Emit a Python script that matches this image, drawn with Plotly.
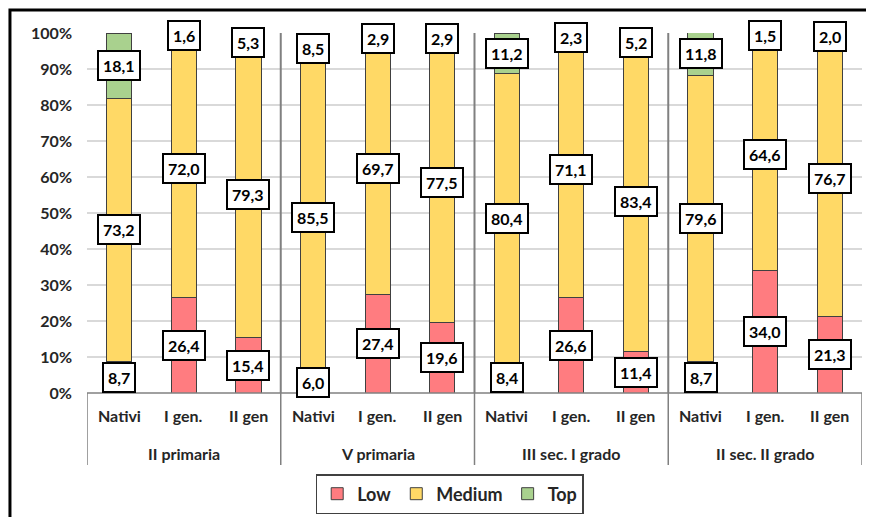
import plotly.graph_objects as go

groups = ["II primaria"] * 3 + ["V primaria"] * 3 + ["III sec. I grado"] * 3 + ["II sec. II grado"] * 3
subcats = ["Nativi", "I gen.", "II gen"] * 4
low = [8.7, 26.4, 15.4, 6.0, 27.4, 19.6, 8.4, 26.6, 11.4, 8.7, 34.0, 21.3]
medium = [73.2, 72.0, 79.3, 85.5, 69.7, 77.5, 80.4, 71.1, 83.4, 79.6, 64.6, 76.7]
top = [18.1, 1.6, 5.3, 8.5, 2.9, 2.9, 11.2, 2.3, 5.2, 11.8, 1.5, 2.0]
series_names = ["Low", "Medium", "Top"]
colors = ["#FF7C80", "#FFD966", "#A9D18E"]
ytick_vals = [0, 10, 20, 30, 40, 50, 60, 70, 80, 90, 100]
ytick_text = [f"<b>{v}%</b>" for v in ytick_vals]

FONT = "Lato, 'Open Sans', sans-serif"
TXT = "#262626"
PLOT_H = 360.0

def py(px_below):
    """paper y for a pixel offset below the plot bottom"""
    return -px_below / PLOT_H

fig = go.Figure()
for name, vals, col in zip(series_names, [low, medium, top], colors):
    fig.add_trace(go.Bar(
        x=[groups, subcats], y=vals, name=f"<b>{name}</b>",
        marker=dict(color=col, line=dict(color="#404040", width=1)),
    ))

annotations = []
# boxed value labels centred in each segment
for i in range(len(subcats)):
    base = 0
    for vals in (low, medium, top):
        v = vals[i]
        annotations.append(dict(
            x=i, y=base + v / 2, xref="x", yref="y",
            text=f"<b>{v:.1f}</b>".replace(".", ","), showarrow=False,
            font=dict(family=FONT, size=16, color="#000000"),
            bgcolor="white", bordercolor="#000000", borderwidth=2, borderpad=4,
        ))
        base += v

# category labels (two rows)
for i, s in enumerate(subcats):
    annotations.append(dict(x=i, y=py(22), xref="x", yref="paper", text=f"<b>{s}</b>",
                            showarrow=False, yanchor="middle",
                            font=dict(family=FONT, size=16, color=TXT)))
group_names = list(dict.fromkeys(groups))
for gi, g in enumerate(group_names):
    idx = [i for i, gg in enumerate(groups) if gg == g]
    annotations.append(dict(x=sum(idx) / len(idx), y=py(60), xref="x", yref="paper",
                            text=f"<b>{g}</b>", showarrow=False, yanchor="middle",
                            font=dict(family=FONT, size=16, color=TXT)))

shapes = []
# group separators inside the plot and through the label area
for b in [-0.5, 2.5, 5.5, 8.5, 11.5]:
    if b not in (-0.5, 11.5):
        shapes.append(dict(type="line", xref="x", yref="y", x0=b, x1=b, y0=0, y1=100,
                           line=dict(color="#808080", width=2)))
    shapes.append(dict(type="line", xref="x", yref="paper", x0=b, x1=b, y0=0, y1=py(72),
                       line=dict(color="#808080", width=1.5)))
# axis base line
shapes.append(dict(type="line", xref="paper", yref="paper", x0=0, x1=1, y0=0, y1=0,
                   line=dict(color="#808080", width=1.5)))
# outer chart frame
shapes.append(dict(type="rect", xref="paper", yref="paper", x0=-0.0994, x1=1.2,
                   y0=-0.6, y1=1.0639, line=dict(color="black", width=3), layer="below"))

# the page body adds an 8px offset, so the figure is sized to fit the window
fig.update_layout(
    barmode="stack", bargap=0.61,
    width=866, height=509,
    margin=dict(l=79, r=12, t=25, b=124, autoexpand=False),
    paper_bgcolor="white", plot_bgcolor="white",
    font=dict(family=FONT, size=15, color=TXT),
    annotations=annotations, shapes=shapes,
    legend=dict(orientation="h", x=0.468, xanchor="center", y=py(101), yanchor="middle",
                bordercolor="#404040", borderwidth=1.5,
                font=dict(family=FONT, size=18, color=TXT),
                traceorder="normal", itemwidth=30, tracegroupgap=0),
    xaxis=dict(type="multicategory", showgrid=False, showline=False, ticks="",
               showticklabels=False, showdividers=False, automargin=False,
               range=[-0.5, 11.5]),
    yaxis=dict(range=[0, 100], tickvals=ytick_vals, ticktext=ytick_text,
               showgrid=True, gridcolor="#D9D9D9", gridwidth=1.5, zeroline=False,
               tickfont=dict(family=FONT, size=16, color=TXT),
               ticks="", showline=False, automargin=False, ticklabelstandoff=14),
)
fig.write_html("out.html")
